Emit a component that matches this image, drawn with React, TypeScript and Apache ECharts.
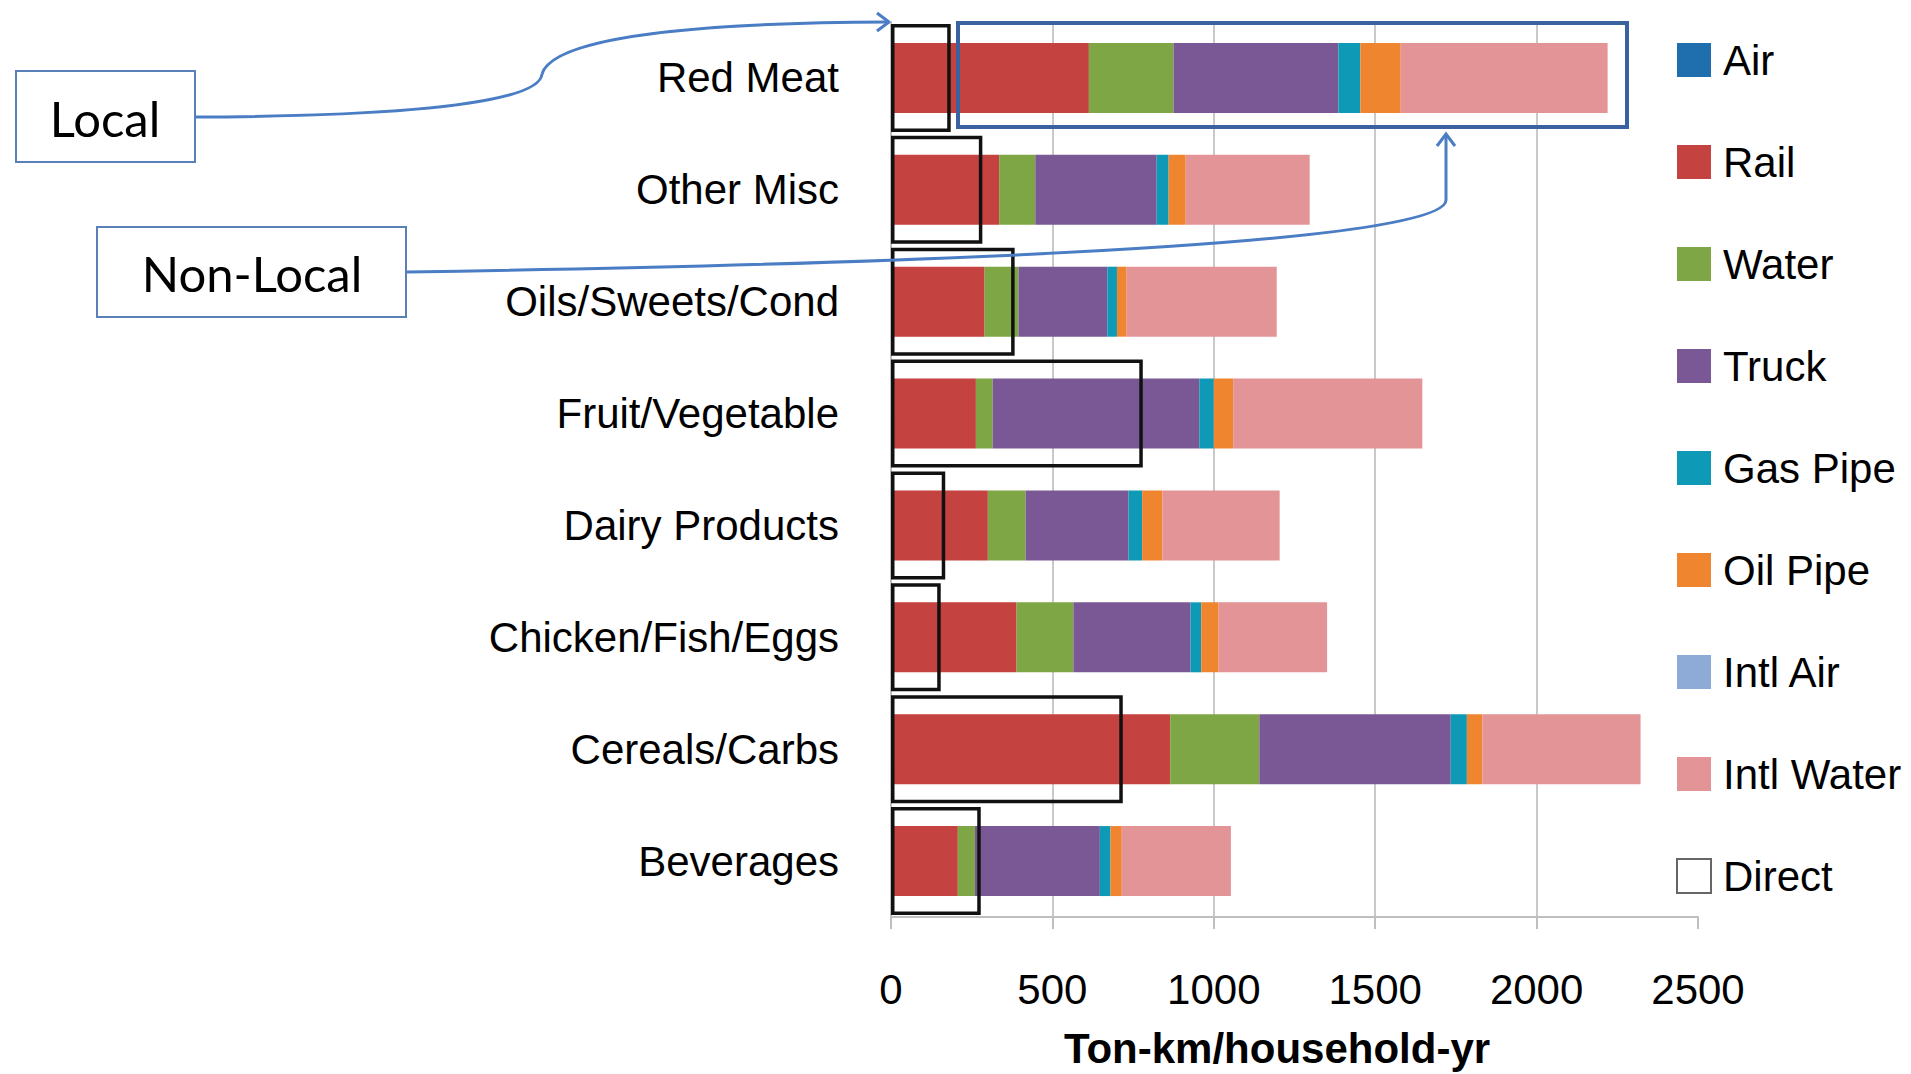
import React, { useEffect, useRef } from "react";
import * as echarts from "echarts";

// Freight intensity by food group and transport mode (ton-km per household per year)
const categories = [
  "Red Meat",
  "Other Misc",
  "Oils/Sweets/Cond",
  "Fruit/Vegetable",
  "Dairy Products",
  "Chicken/Fish/Eggs",
  "Cereals/Carbs",
  "Beverages",
];

const air = [0, 0, 0, 0, 0, 0, 0, 0];
const rail = [613, 335, 290, 263, 300, 389, 865, 207];
const water = [262, 112, 105, 52, 117, 176, 276, 53];
const truck = [511, 376, 275, 640, 319, 363, 593, 387];
const gasPipe = [68, 37, 30, 45, 42, 33, 50, 33];
const oilPipe = [125, 53, 30, 60, 63, 54, 48, 35];
const intlAir = [0, 0, 0, 0, 0, 0, 0, 0];
const intlWater = [641, 384, 465, 586, 363, 336, 490, 338];
const direct = [185, 283, 383, 780, 168, 154, 718, 278];

const xTicks = [0, 500, 1000, 1500, 2000, 2500];

const modeSeries = [
  { name: "Air", data: air, color: "#1F6FAE" },
  { name: "Rail", data: rail, color: "#C4423F" },
  { name: "Water", data: water, color: "#7EA645" },
  { name: "Truck", data: truck, color: "#7A5895" },
  { name: "Gas Pipe", data: gasPipe, color: "#0E9AB7" },
  { name: "Oil Pipe", data: oilPipe, color: "#F08530" },
  { name: "Intl Air", data: intlAir, color: "#8EAAD6" },
  { name: "Intl Water", data: intlWater, color: "#E39496" },
];

const FONT = "'Liberation Sans', Arial, sans-serif";
const CALLOUT_FONT = "Lato, 'Open Sans', sans-serif";
const ARROW = "#4A7DC4";
const BOX = "#5B7FB9";

export default function App() {
  const ref = useRef<HTMLDivElement>(null);

  useEffect(() => {
    if (!ref.current) return;
    const chart = echarts.init(ref.current, null, { renderer: "svg" });

    const gridColors = xTicks.map((v) =>
      v === xTicks[xTicks.length - 1] ? "rgba(0,0,0,0)" : "#C9C9C9"
    );

    const series: any[] = modeSeries.map((s) => ({
      name: s.name,
      type: "bar",
      stack: "total",
      yAxisIndex: 0,
      barWidth: 70,
      data: s.data,
      itemStyle: { color: s.color },
      z: 2,
    }));

    series.push({
      name: "Direct",
      type: "bar",
      yAxisIndex: 1,
      barWidth: 108,
      data: direct,
      itemStyle: {
        color: "rgba(0,0,0,0)",
        borderColor: "#111",
        borderWidth: 3.5,
      },
      z: 4,
    });

    const option: any = {
      animation: false,
      backgroundColor: "#fff",
      grid: { left: 891, right: 213, top: 22, bottom: 157 },
      xAxis: {
        type: "value",
        min: 0,
        max: 2500,
        interval: 500,
        axisLine: { show: true, lineStyle: { color: "#BFBFBF", width: 2 } },
        axisTick: { show: true, length: 12, lineStyle: { color: "#BFBFBF", width: 2 } },
        splitLine: { show: true, lineStyle: { color: gridColors, width: 2 } },
        axisLabel: {
          fontFamily: FONT,
          fontSize: 42,
          color: "#000",
          margin: 51,
          formatter: (v: number) => String(v),
        },
        name: "Ton-km/household-yr",
        nameLocation: "middle",
        nameGap: 110,
        nameTextStyle: {
          fontFamily: FONT,
          fontSize: 42,
          fontWeight: "bold",
          color: "#000",
          padding: [0, 35, 0, 0],
        },
      },
      yAxis: [
        {
          type: "category",
          data: categories,
          inverse: true,
          axisLine: { show: true, lineStyle: { color: "#BFBFBF", width: 2 } },
          axisTick: { show: false },
          axisLabel: { fontFamily: FONT, fontSize: 42, color: "#000", margin: 52 },
        },
        {
          type: "category",
          data: categories,
          inverse: true,
          show: false,
        },
      ],
      legend: {
        orient: "vertical",
        left: 1671,
        top: 34,
        itemWidth: 34,
        itemHeight: 34,
        itemGap: 60,
        icon: "rect",
        textStyle: {
          fontFamily: FONT,
          fontSize: 42,
          lineHeight: 42,
          color: "#000",
          padding: [0, 0, 0, 7],
        },
        data: [
          ...modeSeries.map((s) => s.name),
          {
            name: "Direct",
            itemStyle: { color: "#fff", borderColor: "#666", borderWidth: 2 },
          },
        ],
      },
      series,
      graphic: [
        // "Local" callout
        {
          type: "rect",
          shape: { x: 16, y: 71, width: 179, height: 91 },
          style: { fill: "#fff", stroke: BOX, lineWidth: 2 },
        },
        {
          type: "text",
          x: 105,
          y: 118,
          style: {
            text: "Local",
            fontFamily: CALLOUT_FONT,
            fontSize: 49,
            fill: "#000",
            align: "center",
            verticalAlign: "middle",
          },
        },
        {
          type: "bezierCurve",
          shape: { x1: 196, y1: 117, cpx1: 430, cpy1: 116, cpx2: 540, cpy2: 100, x2: 542, y2: 74 },
          style: { stroke: ARROW, lineWidth: 3, fill: "none" },
        },
        {
          type: "bezierCurve",
          shape: { x1: 542, y1: 74, cpx1: 552, cpy1: 42, cpx2: 660, cpy2: 23, x2: 888, y2: 22 },
          style: { stroke: ARROW, lineWidth: 3, fill: "none" },
        },
        {
          type: "polyline",
          shape: { points: [[877, 13], [889, 22], [877, 31]] },
          style: { stroke: ARROW, lineWidth: 3, fill: "none" },
        },
        // "Non-Local" callout
        {
          type: "rect",
          shape: { x: 97, y: 227, width: 309, height: 90 },
          style: { fill: "#fff", stroke: BOX, lineWidth: 2 },
        },
        {
          type: "text",
          x: 252,
          y: 273,
          style: {
            text: "Non-Local",
            fontFamily: CALLOUT_FONT,
            fontSize: 49,
            fill: "#000",
            align: "center",
            verticalAlign: "middle",
          },
        },
        {
          type: "bezierCurve",
          shape: { x1: 407, y1: 272, cpx1: 1050, cpy1: 262, cpx2: 1446, cpy2: 238, x2: 1446, y2: 200 },
          style: { stroke: ARROW, lineWidth: 3, fill: "none" },
          z: 10,
        },
        {
          type: "line",
          shape: { x1: 1446, y1: 200, x2: 1446, y2: 134 },
          style: { stroke: ARROW, lineWidth: 3 },
          z: 10,
        },
        {
          type: "polyline",
          shape: { points: [[1437, 146], [1446, 134], [1455, 146]] },
          style: { stroke: ARROW, lineWidth: 3, fill: "none" },
          z: 10,
        },
        // frame around the non-local part of the Red Meat bar
        {
          type: "rect",
          shape: { x: 958, y: 23, width: 669, height: 104 },
          style: { fill: "none", stroke: "#3B62A0", lineWidth: 4 },
          z: 10,
        },
      ],
    };

    chart.setOption(option);
    return () => chart.dispose();
  }, []);

  return (
    <div
      ref={ref}
      style={{ position: "fixed", left: 0, top: 0, width: 1911, height: 1074, background: "#fff" }}
    />
  );
}
